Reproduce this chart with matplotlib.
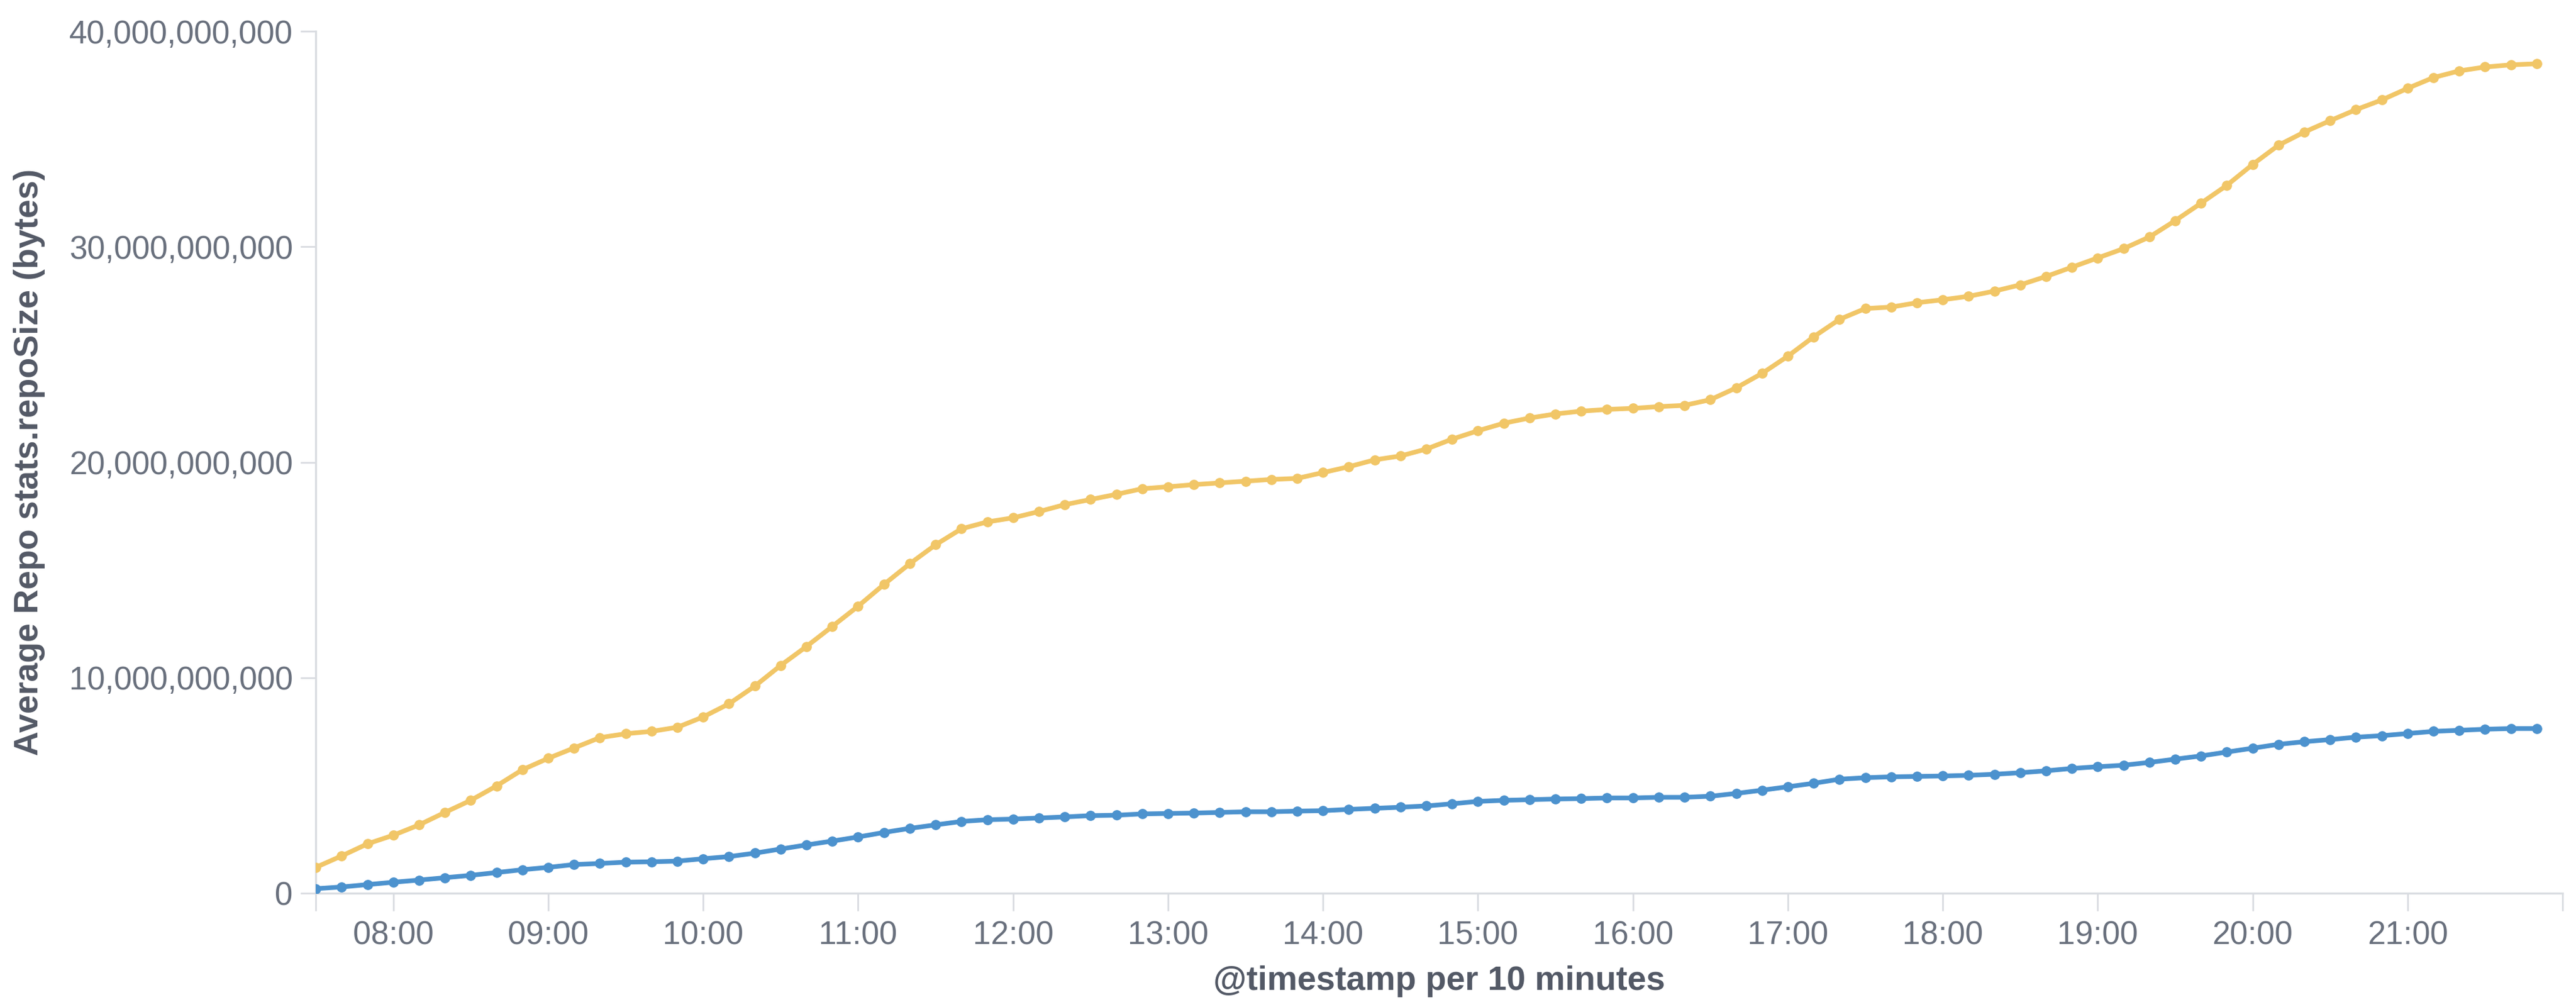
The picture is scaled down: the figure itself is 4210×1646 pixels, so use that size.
import pandas as pd
import matplotlib
matplotlib.use('Agg')
import matplotlib.pyplot as plt
import matplotlib.dates as mdates
from matplotlib.ticker import FuncFormatter

# 10 minute buckets, first bucket 07:30
start_time = '2019-01-01 07:30'
bucket = '10min'

# average repo size, in billions of bytes
repo_size_a = [1.20, 1.73, 2.29, 2.69, 3.17, 3.75, 4.31, 4.98, 5.73, 6.26,
               6.74, 7.22, 7.40, 7.51, 7.70, 8.18, 8.79, 9.61, 10.57, 11.45,
               12.38, 13.32, 14.33, 15.29, 16.17, 16.91, 17.23, 17.42, 17.71, 18.03,
               18.27, 18.51, 18.77, 18.86, 18.96, 19.04, 19.12, 19.20, 19.25, 19.52,
               19.79, 20.11, 20.29, 20.61, 21.07, 21.46, 21.81, 22.05, 22.24, 22.37,
               22.45, 22.50, 22.58, 22.64, 22.90, 23.45, 24.12, 24.92, 25.82, 26.63,
               27.13, 27.20, 27.40, 27.54, 27.70, 27.94, 28.23, 28.62, 29.05, 29.48,
               29.91, 30.45, 31.21, 32.02, 32.85, 33.82, 34.71, 35.32, 35.85, 36.36,
               36.81, 37.35, 37.85, 38.16, 38.34, 38.44, 38.49]
repo_size_b = [0.21, 0.29, 0.40, 0.51, 0.61, 0.72, 0.83, 0.96, 1.09, 1.20,
               1.33, 1.38, 1.44, 1.46, 1.49, 1.60, 1.70, 1.86, 2.05, 2.24,
               2.42, 2.61, 2.82, 3.01, 3.17, 3.33, 3.41, 3.44, 3.49, 3.54,
               3.60, 3.62, 3.68, 3.70, 3.72, 3.75, 3.78, 3.78, 3.81, 3.83,
               3.89, 3.94, 3.99, 4.05, 4.15, 4.26, 4.31, 4.34, 4.37, 4.39,
               4.42, 4.42, 4.45, 4.45, 4.50, 4.63, 4.78, 4.94, 5.10, 5.29,
               5.36, 5.40, 5.42, 5.44, 5.47, 5.52, 5.59, 5.68, 5.79, 5.87,
               5.94, 6.07, 6.22, 6.37, 6.55, 6.73, 6.91, 7.03, 7.13, 7.24,
               7.31, 7.41, 7.51, 7.56, 7.61, 7.64, 7.64]

y_ticks = [0, 10e9, 20e9, 30e9, 40e9]
x_tick_labels = ['08:00', '09:00', '10:00', '11:00', '12:00', '13:00', '14:00',
                 '15:00', '16:00', '17:00', '18:00', '19:00', '20:00', '21:00']
x_range = ['2019-01-01 07:30', '2019-01-01 22:00']

xlabel = '@timestamp per 10 minutes'
ylabel = 'Average Repo stats.repoSize (bytes)'

times = pd.date_range(start_time, periods=len(repo_size_a), freq=bucket)
ya = [v * 1e9 for v in repo_size_a]
yb = [v * 1e9 for v in repo_size_b]
x_ticks = [pd.Timestamp('2019-01-01 ' + t) for t in x_tick_labels]

plt.rcParams['font.family'] = ['Liberation Sans', 'DejaVu Sans']

fig = plt.figure(figsize=(42.10, 16.46), dpi=100)
ax = fig.add_axes([0.1226, 0.1130, 0.8722, 0.8560])

ax.plot(times, yb, color='#4C92CE', marker='o', linewidth=5.5, markersize=11,
        solid_joinstyle='round', zorder=3)
ax.plot(times, ya, color='#F1C667', marker='o', linewidth=5.5, markersize=11,
        solid_joinstyle='round', zorder=3)

x0, x1 = pd.Timestamp(x_range[0]), pd.Timestamp(x_range[1])
ax.set_xlim(x0, x1)
ax.set_ylim(0, 40e9)
ax.set_yticks(y_ticks)
ax.yaxis.set_major_formatter(FuncFormatter(lambda v, p: '{:,.0f}'.format(v)))

ax.set_xticks([mdates.date2num(t) for t in x_ticks])
ax.set_xticklabels(x_tick_labels)
# end ticks of the time domain
ax.set_xticks([mdates.date2num(x0), mdates.date2num(x1)], minor=True)

axis_grey = '#D9DCE1'
for side in ['top', 'right']:
    ax.spines[side].set_visible(False)
for side in ['left', 'bottom']:
    ax.spines[side].set_color(axis_grey)
    ax.spines[side].set_linewidth(2.4)

ax.tick_params(axis='x', which='both', length=21, width=2, color=axis_grey,
               labelsize=38, labelcolor='#69707D', pad=11)
ax.tick_params(axis='y', length=18, width=2, color=axis_grey,
               labelsize=38, labelcolor='#69707D', pad=9)

ax.set_xlabel(xlabel, fontsize=40, fontweight='bold', color='#535966')
ax.set_ylabel(ylabel, fontsize=40, fontweight='bold', color='#535966')
ax.xaxis.set_label_coords(0.5, -0.084)
ax.yaxis.set_label_coords(-0.1205, 0.5)

fig.savefig('out.png', dpi=100, facecolor='white')
